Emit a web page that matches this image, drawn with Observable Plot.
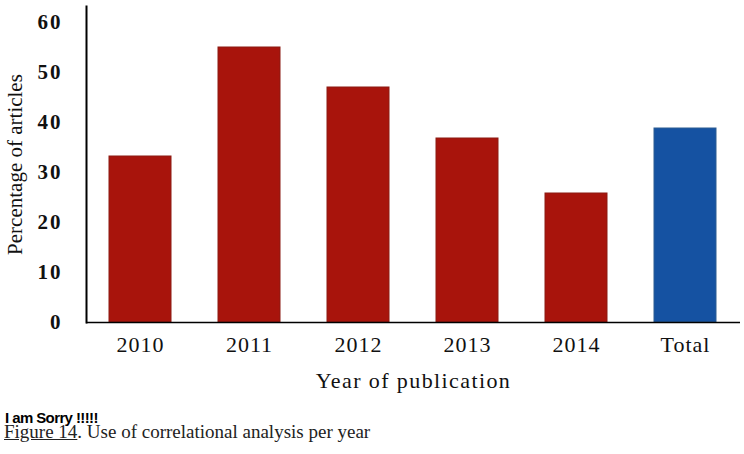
<!DOCTYPE html>
<html>
<head>
<meta charset="utf-8">
<script src="https://cdn.jsdelivr.net/npm/d3@7"></script>
<script src="https://cdn.jsdelivr.net/npm/@observablehq/plot@0.6"></script>
<style>
  html, body { margin: 0; padding: 0; background: #fff; }
  #wrap { position: relative; width: 744px; height: 454px; overflow: hidden; }
  #chart { position: absolute; left: 0; top: 0; }
  #sorry { position: absolute; left: 5px; top: 409px; font-family: "Liberation Sans", Arial, sans-serif; font-weight: bold; font-size: 15px; letter-spacing: -0.6px; color: #000; }
  #cap { position: absolute; left: 4px; top: 421px; font-family: "Liberation Serif", "Times New Roman", serif; font-size: 19px; color: #222; white-space: nowrap; }
  #cap u { text-decoration: underline; }
  #chart g[aria-label="y-axis tick label"] text { letter-spacing: 2px; }
  #chart g[aria-label="x-axis tick label"] text { letter-spacing: 1px; }
  #chart g[aria-label="x-axis label"] text { letter-spacing: 1.4px; }
</style>
</head>
<body>
<div id="wrap">
  <div id="chart"></div>
  <div id="sorry">I am Sorry !!!!!</div>
  <div id="cap"><u>Figure 14</u>. Use of correlational analysis per year</div>
</div>
<script>
const categories = ["2010", "2011", "2012", "2013", "2014", "Total"];
const values = [33.2, 55, 47, 36.8, 25.8, 38.8];
const groups = ["year", "year", "year", "year", "year", "total"];
const yTicks = [0, 10, 20, 30, 40, 50, 60];

const data = categories.map((c, i) => ({cat: c, value: values[i], group: groups[i]}));

const plot = Plot.plot({
  width: 744,
  height: 400,
  marginLeft: 86,
  marginRight: 4,
  marginTop: 6,
  marginBottom: 78,
  style: { fontFamily: "'Liberation Serif', 'Times New Roman', serif", fontSize: "22px", color: "#111", background: "#fff" },
  x: { domain: categories, paddingInner: 0.43, paddingOuter: 0.215 },
  y: { domain: [0, 63.2] },
  color: { domain: ["year", "total"], range: ["#a8140c", "#1552a2"] },
  marks: [
    Plot.barY(data, { x: "cat", y: "value", fill: "group", stroke: d => d.group === "year" ? "#8c1a12" : "#2d5d92", strokeWidth: 1 }),
    Plot.axisY({ ticks: yTicks, tickSize: 0, tickPadding: 24, fontSize: 21, fontWeight: "bold", tickFormat: d => String(d), label: null }),
    Plot.axisY({ ticks: [], tickSize: 0, fontSize: 21, label: "Percentage of articles", labelAnchor: "center", labelArrow: "none", labelOffset: 79 }),
    Plot.axisX({ tickSize: 0, tickPadding: 14, fontSize: 22, label: "Year of publication", labelAnchor: "center", labelArrow: "none", labelOffset: 65 }),
    Plot.frame({ anchor: "left", stroke: "#000", strokeWidth: 2 }),
    Plot.ruleY([0], { stroke: "#000", strokeWidth: 1.5 })
  ]
});
document.getElementById("chart").appendChild(plot);
</script>
</body>
</html>
